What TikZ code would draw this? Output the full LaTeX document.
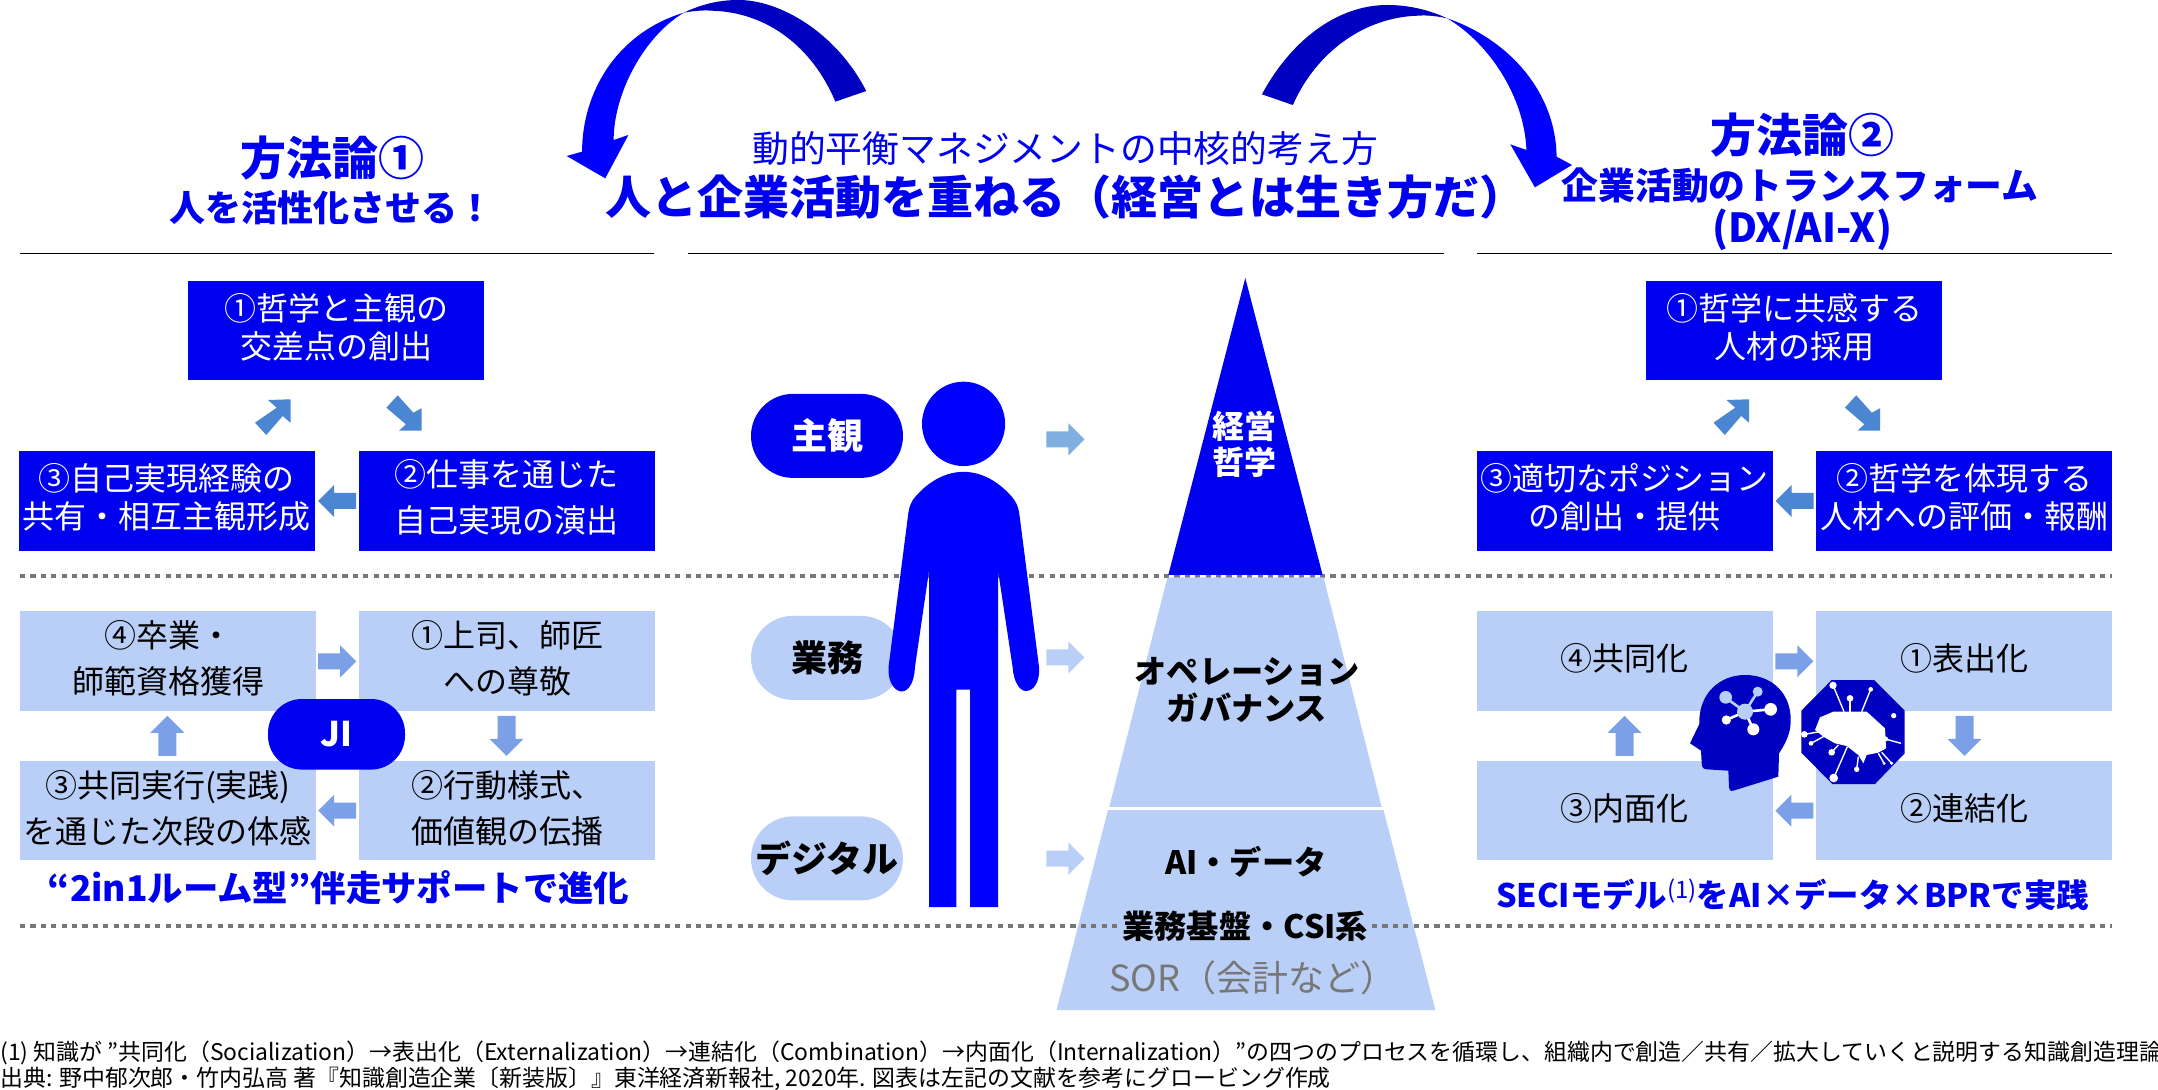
\documentclass[tikz,border=0pt]{standalone}
\usepackage{fontspec}
\setmainfont{Noto Sans CJK JP}
\definecolor{dkblue}{HTML}{0000F0}
\definecolor{pureblue}{HTML}{0000FF}
\definecolor{navy}{HTML}{0000C0}
\definecolor{ltblue}{HTML}{B9CFF7}
\definecolor{midarrow}{HTML}{4A86D2}
\definecolor{softarrow}{HTML}{7BA0E8}
\definecolor{skyarrow}{HTML}{7FAEE0}
\definecolor{dotgray}{HTML}{777777}
\newcommand{\fs}[2]{\fontsize{#1}{#2}\selectfont}
\newcommand{\barrow}[4]{\begin{scope}[shift={(#1,#2)},rotate=#3]\fill[#4] (-19,-8) -- (3,-8) -- (3,-16) -- (19,0) -- (3,16) -- (3,8) -- (-19,8) -- cycle;\end{scope}}
\newcommand{\varrow}[4]{\begin{scope}[shift={(#1,#2)},rotate=#3]\fill[#4] (-20,-9) -- (3,-9) -- (3,-17) -- (20,0) -- (3,17) -- (3,9) -- (-20,9) -- cycle;\end{scope}}
\newcommand{\diagup}[2]{\begin{scope}[shift={(#1,0)}]\fill[#2] (290.5,399.3) -- (268,400) -- (276.7,407.7) -- (255,422.7) -- (266.3,435) -- (282.7,416) -- (290.5,422.7) -- cycle;\end{scope}}
\newcommand{\diagdn}[2]{\begin{scope}[shift={(#1,0)}]\fill[#2] (421.5,430.7) -- (421.5,408.3) -- (413.3,412.7) -- (397.7,395.3) -- (386.4,407.7) -- (405.9,424.3) -- (399,430.7) -- cycle;\end{scope}}
\tikzset{
  x=0.5pt,y=-0.5pt,
  boxbase/.style={rectangle,inner sep=0pt,outer sep=0pt,minimum width=148pt,minimum height=49.8pt,align=center},
  darkbox/.style={boxbase,fill=dkblue,text=white,text depth=4.5pt,font=\fs{16}{19}},
  darkwide/.style={boxbase,fill=dkblue,text=white,text depth=4.5pt,font=\fs{16}{23}},
  lightbox/.style={boxbase,fill=ltblue,text=black,text depth=3.5pt,font=\fs{16}{23}},
  pillbase/.style={rectangle,rounded corners=21pt,inner sep=0pt,minimum width=76pt,minimum height=42pt,font=\bfseries\fs{18}{21}},
  title/.style={inner sep=0pt,align=center,text=dkblue,font=\bfseries},
  plainbold/.style={inner sep=0pt,align=center,text=black,font=\bfseries\fs{16.1}{18.2}},
  hline/.style={black,line width=0.6pt},
  dotline/.style={dotgray,line width=2.1pt,dash pattern=on 2.6pt off 2.6pt},
}
\begin{document}
\begin{tikzpicture}
\useasboundingbox (0,0) rectangle (2158,1090);
\fill[white] (0,0) rectangle (2158,1090);
% rules
\coordinate (ruleA1) at (20,253.3); \coordinate (ruleA2) at (654,253.3);
\coordinate (ruleB1) at (688,253.3); \coordinate (ruleB2) at (1443.5,253.3);
\coordinate (ruleC1) at (1477,253.3); \coordinate (ruleC2) at (2112,253.3);
\coordinate (dotA1) at (20,576.3); \coordinate (dotA2) at (2112,576.3);
\coordinate (dotB1) at (20,926.3); \coordinate (dotB2) at (2112,926.3);
\draw[hline] (ruleA1) -- (ruleA2);
\draw[hline] (ruleB1) -- (ruleB2);
\draw[hline] (ruleC1) -- (ruleC2);
\draw[dotline] (dotA1) -- (dotA2);
% curved arrows
\begin{scope}[shift={(500,0)},x=0.3508pt,y=-0.16667pt]
\fill[navy] (522,273) .. controls (480,100) and (400,0) .. (340,0) .. controls (310,0) and (285,15) .. (262,38) .. controls (275,33) and (290,30) .. (300,32) .. controls (380,35) and (445,140) .. (478,305) -- cycle;
\fill[pureblue] (262,38) .. controls (165,100) and (117,280) .. (117,455) -- (95,468) -- (150,535) -- (183,405) -- (162,420) .. controls (162,280) and (205,110) .. (262,38) -- cycle;
\fill[navy] (1086,283) .. controls (1125,130) and (1190,15) .. (1265,15) .. controls (1300,15) and (1330,35) .. (1350,55) .. controls (1335,48) and (1320,45) .. (1310,47) .. controls (1235,50) and (1165,150) .. (1130,315) -- cycle;
\fill[pureblue] (1350,55) .. controls (1440,120) and (1505,280) .. (1506,470) -- (1528,495) -- (1475,562) -- (1440,433) -- (1463,450) .. controls (1460,290) and (1410,130) .. (1350,55) -- cycle;
\end{scope}
% titles
\node[title,font=\bfseries\fs{23}{26}] (tL1) at (332,158) {方法論①};
\node[title,font=\bfseries\fs{18}{21}] (tL2) at (331,208) {人を活性化させる！};
\node[title,font=\bfseries\fs{23}{26}] (tR1) at (1802,135) {方法論②};
\node[title,font=\bfseries\fs{18.4}{21}] (tR2) at (1800,186) {企業活動のトランスフォーム};
\node[title,font=\bfseries\fs{20}{23}] (tR3) at (1802,230) {(DX/AI-X)};
\node[title,font=\fs{18.4}{21}] (tC1) at (1065,148.3) {動的平衡マネジメントの中核的考え方};
\node[title,font=\bfseries\fs{23}{26}] (tC2) at (1065,196.7) {人と企業活動を重ねる（経営とは生き方だ）};
% left top
\node[darkbox] (L1) at (336,330.5) {①哲学と主観の\\交差点の創出};
\node[darkbox] (L3) at (167,500.9) {③自己実現経験の\\共有・相互主観形成};
\node[darkwide] (L2) at (506.5,500.9) {②仕事を通じた\\自己実現の演出};
\diagup{0}{midarrow}
\diagdn{0}{midarrow}
\barrow{337}{501}{180}{midarrow}
% left bottom
\node[lightbox] (LA) at (168,660.9) {④卒業・\\師範資格獲得};
\node[lightbox] (LB) at (507,660.9) {①上司、師匠\\への尊敬};
\node[lightbox] (LC) at (168,810.4) {③共同実行(実践)\\を通じた次段の体感};
\node[lightbox] (LD) at (507,810.4) {②行動様式、\\価値観の伝播};
\barrow{337.2}{661.3}{0}{softarrow}
\barrow{337.2}{810.7}{180}{softarrow}
\varrow{506.5}{735.8}{270}{softarrow}
\varrow{167.4}{735.8}{90}{softarrow}
\node[rectangle,rounded corners=17pt,fill=dkblue,text=white,inner sep=0pt,minimum width=68.5pt,minimum height=35.3pt,font=\bfseries\fs{17}{20}] (JI) at (336.5,734.3) {JI};
\node[title,font=\bfseries\fs{17.7}{20}] (tL3) at (338.5,888) {“2in1ルーム型”伴走サポートで進化};
% right top
\node[darkbox] (R1) at (1794,330.5) {①哲学に共感する\\人材の採用};
\node[darkbox] (R3) at (1624.5,500.9) {③適切なポジション\\の創出・提供};
\node[darkbox] (R2) at (1964,500.9) {②哲学を体現する\\人材への評価・報酬};
\diagup{1458.5}{midarrow}
\diagdn{1458.5}{midarrow}
\barrow{1794.5}{501}{180}{midarrow}
% right bottom
\node[lightbox] (RA) at (1624.5,660.9) {④共同化};
\node[lightbox] (RB) at (1964,660.9) {①表出化};
\node[lightbox] (RC) at (1624.5,810.4) {③内面化};
\node[lightbox] (RD) at (1964,810.4) {②連結化};
\barrow{1794.3}{661.3}{0}{softarrow}
\barrow{1794.3}{810.7}{180}{softarrow}
\varrow{1964.5}{735.8}{270}{softarrow}
\varrow{1624.5}{735.8}{90}{softarrow}
\node[title,font=\bfseries\fs{16.2}{18}] (tR4) at (1792.5,895) {SECIモデル\raisebox{4.5pt}{\fs{12}{12}\mdseries (1)}をAI×データ×BPRで実践};
% icons
\begin{scope}[shift={(1650,580)},x=0.16667pt,y=-0.16667pt]
\fill[navy] (120,490) -- (148,432) .. controls (145,340) and (210,285) .. (285,285) .. controls (370,285) and (425,345) .. (422,425) .. controls (422,465) and (400,500) .. (387,520) -- (385,590) -- (250,632) .. controls (240,634) and (237,630) .. (237,622) -- (235,572) -- (170,568) .. controls (158,567) and (155,560) .. (155,548) -- (153,512) -- cycle;
\draw[ltblue,line width=1.3pt] (285,395) -- (225,352);
\draw[ltblue,line width=1.3pt] (285,395) -- (323,335);
\draw[white,line width=1.3pt] (285,395) -- (362,388);
\draw[white,line width=1.3pt] (285,395) -- (229,420);
\draw[white,line width=1.3pt] (285,395) -- (310,448);
\fill[ltblue] (285,395) circle[radius=24];
\fill[ltblue] (227,352) circle[radius=19];
\fill[ltblue] (323,335) circle[radius=15];
\fill[white] (362,388) circle[radius=19];
\fill[white] (229,420) circle[radius=14];
\fill[white] (310,448) circle[radius=18];
% chip brain
\fill[navy] (545,300) -- (672,300) -- (764,392) -- (764,520) -- (675,612) -- (547,612) -- (454,518) -- (454,392) -- cycle;
\fill[white] (550,395) -- (650,395) -- (705,445) -- (708,505) -- (685,518) -- (650,525) -- (640,550) -- (625,525) -- (590,498) -- (555,490) -- (520,470) -- (495,450) -- (510,412) -- cycle;
\foreach \xa/\ya/\xb/\yb/\r in {549/316/582/395/11,600/355/600/395/10,662/328/635/395/7,706/477/753/490/8,463/463/510/455/10,483/490/520/470/7,545/517/565/495/10,551/594/592/500/13,620/568/625/530/8,702/550/685/520/5,725/550/695/517/5}{
  \draw[white,line width=0.7pt] (\xa,\ya) -- (\xb,\yb);
  \fill[white] (\xa,\ya) circle[radius=\r];
}
\fill[white] (731,407) circle[radius=8];
\end{scope}
% pills
\node[pillbase,fill=dkblue,text=white] (pA) at (827,435.9) {主観};
\node[pillbase,fill=ltblue,text=black] (pB) at (827,657.9) {業務};
\node[pillbase,fill=ltblue,text=black] (pC) at (827,858.4) {デジタル};
% pyramid
\fill[dkblue] (1245.3,278) -- (1322.6,575) -- (1168.3,575) -- cycle;
\fill[ltblue] (1167.4,577.5) -- (1323.6,577.5) -- (1381.6,806.8) -- (1109.3,806.8) -- cycle;
\fill[ltblue] (1108,810) -- (1383.5,810) -- (1435.4,1010) -- (1056.5,1010) -- cycle;
% person
\begin{scope}[shift={(720,260)},x=0.236pt,y=-0.2424pt]
\fill[pureblue] (516,338) ellipse[x radius=88,y radius=87];
\fill[pureblue] (516,437) .. controls (470,437) and (435,465) .. (415,487) .. controls (405,497) and (400,510) .. (398,530) -- (357,840) .. controls (355,870) and (370,890) .. (385,890) .. controls (400,890) and (412,870) .. (413,840) -- (443,640) -- (443,1335) -- (501,1335) -- (501,886) -- (530,886) -- (530,1335) -- (589,1335) -- (589,640) -- (620,840) .. controls (622,870) and (635,889) .. (648,889) .. controls (665,889) and (678,870) .. (676,840) -- (635,530) .. controls (633,510) and (627,497) .. (617,487) .. controls (597,465) and (562,437) .. (516,437) -- cycle;
\end{scope}
% row arrows
\barrow{1065.4}{439.4}{0}{skyarrow}
\barrow{1065.4}{657.5}{0}{ltblue}
\barrow{1065.4}{858.6}{0}{ltblue}
% lower dotted line and pyramid text
\draw[dotline] (dotB1) -- (dotB2);
\node[plainbold,text=white,font=\bfseries\fs{16}{18.4}] (pyA) at (1244.3,444.2) {経営\\哲学};
\node[plainbold] (pyB) at (1247,690.2) {オペレーション\\ガバナンス};
\node[plainbold] (pyC) at (1245.8,862) {AI・データ};
\node[plainbold,fill=ltblue,inner xsep=1pt,inner ysep=1pt] (pyD) at (1245.3,926.5) {業務基盤・CSI系};
\node[inner sep=0pt,text=dotgray,font=\fs{18}{21}] (pyE) at (1253,977.4) {SOR（会計など）};
% footnotes
\node[inner sep=0pt,anchor=west,font=\fs{11.45}{14}] (fn1) at (0,1052.7) {(1) 知識が ”共同化（Socialization）→表出化（Externalization）→連結化（Combination）→内面化（Internalization）”の四つのプロセスを循環し、組織内で創造／共有／拡大していくと説明する知識創造理論};
\node[inner sep=0pt,anchor=west,font=\fs{11.45}{14}] (fn2) at (0,1078.5) {出典: 野中郁次郎・竹内弘高 著『知識創造企業〔新装版〕』東洋経済新報社, 2020年. 図表は左記の文献を参考にグロービング作成};
\end{tikzpicture}
\end{document}
